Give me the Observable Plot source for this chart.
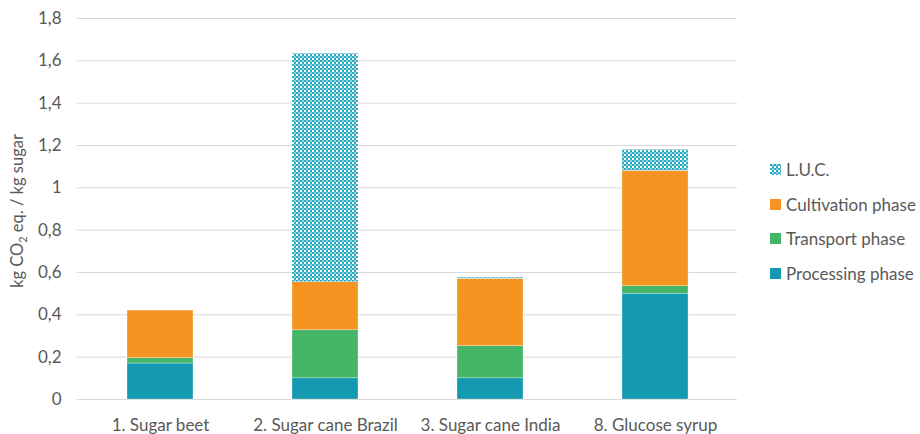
<!DOCTYPE html>
<html><head><meta charset="utf-8">
<script src="https://cdn.jsdelivr.net/npm/d3@7"></script>
<script src="https://cdn.jsdelivr.net/npm/@observablehq/plot@0.6"></script>
<style>
body{margin:0;background:#fff;font-family:Lato,"Open Sans",sans-serif;}
#wrap{position:relative;width:920px;height:434px;}
#legend{position:absolute;left:770px;top:152px;font-size:17px;color:#595959;}
#legend .item{display:flex;align-items:center;height:34.7px;}
#legend .sw{width:11px;height:11px;margin-right:5px;}
</style></head>
<body><div id="wrap"><div id="legend"></div></div>
<script>
const categories = ["1. Sugar beet", "2. Sugar cane Brazil", "3. Sugar cane India", "8. Glucose syrup"];
const series = ["Processing phase", "Transport phase", "Cultivation phase", "L.U.C."];
const processing = [0.17, 0.10, 0.10, 0.50];
const transport = [0.025, 0.227, 0.152, 0.035];
const cultivation = [0.225, 0.227, 0.318, 0.545];
const luc = [0.0, 1.08, 0.006, 0.10];
const yTicks = [0, 0.2, 0.4, 0.6, 0.8, 1, 1.2, 1.4, 1.6, 1.8];
const colors = ["#1399b2", "#45b666", "#f59421", "url(#lucPattern)"];

const valuesBySeries = [processing, transport, cultivation, luc];
const rows = [];
series.forEach((s, i) => categories.forEach((c, j) => rows.push({category: c, series: s, value: valuesBySeries[i][j]})));

const chart = Plot.plot({
  width: 920, height: 434,
  marginLeft: 77, marginRight: 183, marginTop: 18, marginBottom: 35,
  style: {fontFamily: "Lato, 'Open Sans', sans-serif", fontSize: "17px", color: "#595959", background: "#fff"},
  x: {domain: categories, paddingInner: 0.6, paddingOuter: 0.3, label: null},
  y: {domain: [0, 1.8], label: null},
  color: {domain: series, range: colors},
  marks: [
    Plot.gridY(yTicks, {stroke: "#d9d9d9", strokeOpacity: 1, strokeWidth: 1}),
    Plot.axisY({ticks: yTicks, tickSize: 0, tickPadding: 16, tickFormat: d => String(d).replace(".", ","), label: null, fill: "#595959"}),
    Plot.axisX({tickSize: 0, tickPadding: 19, label: null, fill: "#595959"}),
    Plot.barY(rows, {x: "category", y: "value", fill: "series", z: "series", order: series, stroke: "#fff", strokeWidth: 0.5, strokeOpacity: 0.6})
  ]
});

const svg = d3.select(chart);
const defs = svg.insert("defs", ":first-child");
const pat = defs.append("pattern").attr("id", "lucPattern").attr("patternUnits", "userSpaceOnUse").attr("width", 4).attr("height", 4);
pat.append("rect").attr("width", 4).attr("height", 4).attr("fill", "#ffffff");
pat.append("rect").attr("x", 0).attr("y", 0).attr("width", 2).attr("height", 2).attr("fill", "#2aa7c2");
pat.append("rect").attr("x", 2).attr("y", 2).attr("width", 2).attr("height", 2).attr("fill", "#2aa7c2");
pat.append("rect").attr("x", 2).attr("y", 0).attr("width", 2).attr("height", 2).attr("fill", "#8fd2e0");

const t = svg.append("text").attr("transform", "translate(23,211) rotate(-90)").attr("text-anchor", "middle")
  .attr("fill", "#595959").attr("font-size", "16.5px").attr("font-family", "Lato, 'Open Sans', sans-serif");
t.append("tspan").text("kg CO");
t.append("tspan").attr("font-size", "11px").attr("dy", "4").text("2");
t.append("tspan").attr("dy", "-4").text(" eq. / kg sugar");

document.getElementById("wrap").prepend(chart);

const leg = document.getElementById("legend");
[["L.U.C.", 3], ["Cultivation phase", 2], ["Transport phase", 1], ["Processing phase", 0]].forEach(([name, i]) => {
  const item = document.createElement("div"); item.className = "item";
  const sw = document.createElementNS("http://www.w3.org/2000/svg", "svg");
  sw.setAttribute("width", 11); sw.setAttribute("height", 11); sw.classList.add("sw");
  if (i === 3) {
    sw.innerHTML = '<defs><pattern id="lp2" patternUnits="userSpaceOnUse" width="4" height="4"><rect width="4" height="4" fill="#fff"/><rect width="2" height="2" fill="#2aa7c2"/><rect x="2" y="2" width="2" height="2" fill="#2aa7c2"/><rect x="2" width="2" height="2" fill="#8fd2e0"/></pattern></defs><rect width="11" height="11" fill="url(#lp2)"/>';
  } else {
    sw.innerHTML = `<rect width="11" height="11" fill="${colors[i]}"/>`;
  }
  const label = document.createElement("span"); label.textContent = name;
  item.append(sw, label); leg.append(item);
});
</script></body></html>
